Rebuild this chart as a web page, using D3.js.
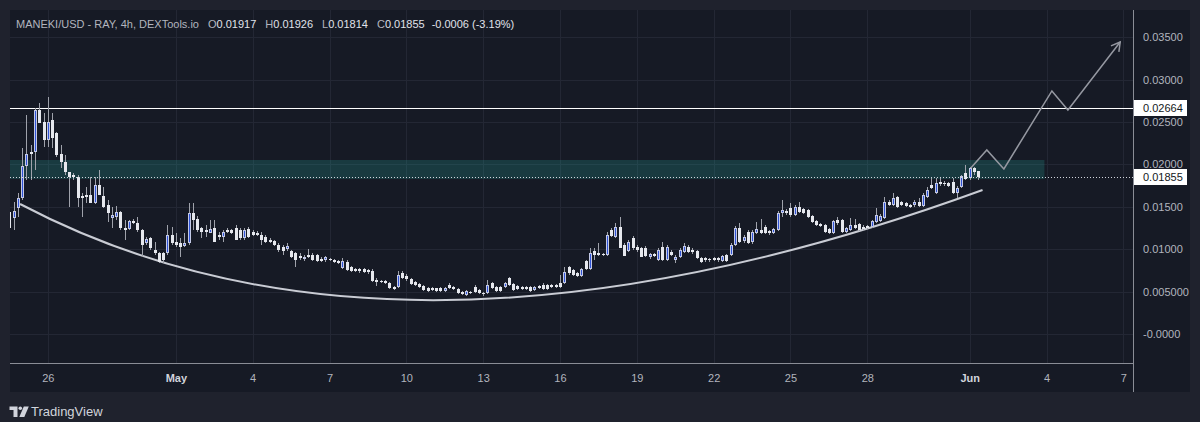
<!DOCTYPE html>
<html>
<head>
<meta charset="utf-8">
<script src="https://cdn.jsdelivr.net/npm/d3@7"></script>
<style>
    html, body { margin: 0; padding: 0; background: #1f222d; }
    svg { display: block; }
    text { font-family: "Liberation Sans", Arial, sans-serif; }
</style>
</head>
<body>
<div id="chart"></div>
<script>

// 4h bars, the first one opens on 24 Apr 12:00 (UTC)
var firstBar = Date.UTC(2024, 3, 24, 12);
var barHours = 4;

// open, high, low, close
var ohlc = [
    [.01443,.01501,.01226,.01250],[.01368,.01557,.01226,.01451],[.01486,.01663,.01380,.01604],[.01604,.02193,.01580,.01981],
    [.01981,.02583,.01816,.02123],[.02146,.02229,.01816,.02123],[.02146,.02665,.01934,.02642],[.02642,.02724,.02488,.02488],
    [.02500,.02606,.02205,.02288],[.02288,.02795,.02205,.02500],[.02524,.02606,.02193,.02311],[.02370,.02382,.02087,.02111],
    [.02123,.02229,.01958,.02028],[.02028,.02111,.01875,.01910],[.01910,.01910,.01498,.01851],[.01875,.01899,.01816,.01851],
    [.01851,.01875,.01498,.01604],[.01627,.01663,.01380,.01604],[.01639,.01733,.01545,.01616],[.01639,.01851,.01545,.01545],
    [.01545,.01851,.01533,.01757],[.01757,.01934,.01639,.01639],[.01627,.01733,.01486,.01498],[.01521,.01580,.01321,.01427],
    [.01368,.01498,.01250,.01403],[.01380,.01509,.01344,.01439],[.01439,.01451,.01226,.01250],[.01250,.01344,.01108,.01226],
    [.01238,.01344,.01226,.01333],[.01333,.01356,.01297,.01309],[.01309,.01380,.01203,.01226],[.01226,.01238,.00908,.01050],
    [.01073,.01144,.01050,.01120],[.01132,.01144,.00991,.01014],[.00991,.01085,.00932,.00955],[.00955,.00967,.00837,.00849],
    [.00955,.00967,.00837,.00873],[.00955,.01285,.00932,.01167],[.01167,.01262,.01050,.01073],[.01085,.01191,.01026,.01050],
    [.01073,.01132,.00908,.01026],[.01038,.01191,.01026,.01073],[.01073,.01545,.01050,.01427],[.01427,.01545,.01226,.01344],
    [.01356,.01391,.01203,.01226],[.01250,.01262,.01132,.01203],[.01226,.01285,.01144,.01203],[.01191,.01344,.01191,.01238],
    [.01250,.01344,.01085,.01085],[.01167,.01203,.01108,.01144],[.01144,.01226,.01085,.01203],[.01226,.01250,.01191,.01203],
    [.01226,.01238,.01179,.01191],[.01250,.01285,.01108,.01108],[.01226,.01250,.01108,.01132],[.01132,.01250,.01108,.01226],
    [.01238,.01262,.01132,.01144],[.01203,.01226,.01155,.01167],[.01191,.01215,.01155,.01167],[.01167,.01203,.01050,.01108],
    [.01144,.01167,.01073,.01085],[.01108,.01132,.01073,.01085],[.01097,.01108,.01038,.01050],[.01050,.01073,.00967,.00991],
    [.01026,.01050,.00932,.00979],[.01002,.01073,.00979,.01038],[.00979,.00991,.00896,.00908],[.00955,.00967,.00790,.00873],
    [.00920,.00955,.00873,.00896],[.00884,.00932,.00861,.00908],[.00932,.01002,.00896,.00908],[.00932,.00955,.00861,.00873],
    [.00932,.00944,.00849,.00861],[.00884,.00908,.00849,.00861],[.00873,.00920,.00849,.00908],[.00884,.00896,.00861,.00873],
    [.00873,.00884,.00837,.00849],[.00861,.00873,.00826,.00837],[.00778,.00896,.00767,.00861],[.00849,.00873,.00743,.00755],
    [.00790,.00802,.00731,.00743],[.00767,.00778,.00731,.00743],[.00767,.00778,.00719,.00743],[.00767,.00778,.00719,.00731],
    [.00755,.00767,.00708,.00731],[.00743,.00767,.00613,.00625],[.00637,.00660,.00566,.00613],[.00625,.00637,.00601,.00613],
    [.00625,.00637,.00590,.00601],[.00601,.00613,.00531,.00542],[.00554,.00566,.00519,.00531],[.00554,.00743,.00542,.00696],
    [.00719,.00743,.00649,.00660],[.00684,.00708,.00625,.00649],[.00649,.00660,.00578,.00590],[.00613,.00625,.00566,.00578],
    [.00590,.00601,.00542,.00554],[.00566,.00578,.00507,.00519],[.00542,.00554,.00495,.00507],[.00542,.00554,.00507,.00519],
    [.00542,.00542,.00495,.00507],[.00542,.00554,.00495,.00507],[.00507,.00554,.00495,.00542],[.00578,.00601,.00531,.00542],
    [.00554,.00566,.00519,.00531],[.00531,.00542,.00472,.00483],[.00495,.00507,.00460,.00472],[.00460,.00519,.00448,.00507],
    [.00495,.00507,.00472,.00483],[.00554,.00578,.00483,.00495],[.00519,.00531,.00472,.00483],[.00483,.00495,.00448,.00472],
    [.00483,.00637,.00472,.00578],[.00601,.00613,.00531,.00542],[.00554,.00566,.00495,.00507],[.00554,.00566,.00495,.00507],
    [.00554,.00613,.00542,.00601],[.00660,.00672,.00566,.00578],[.00590,.00601,.00507,.00519],[.00566,.00578,.00519,.00531],
    [.00554,.00566,.00519,.00531],[.00554,.00566,.00519,.00531],[.00554,.00566,.00495,.00507],[.00519,.00566,.00507,.00554],
    [.00566,.00578,.00531,.00542],[.00578,.00601,.00519,.00531],[.00578,.00590,.00519,.00531],[.00578,.00590,.00542,.00554],
    [.00578,.00590,.00542,.00554],[.00601,.00696,.00542,.00554],[.00601,.00790,.00590,.00731],[.00790,.00802,.00696,.00719],
    [.00755,.00767,.00684,.00696],[.00719,.00731,.00672,.00684],[.00684,.00778,.00672,.00767],[.00861,.00873,.00755,.00767],
    [.00767,.01014,.00755,.00955],[.00979,.01014,.00873,.00932],[.00955,.01073,.00920,.00932],[.00944,.00955,.00920,.00932],
    [.00932,.01203,.00920,.01167],[.01226,.01250,.01144,.01155],[.01144,.01309,.01132,.01262],[.01262,.01380,.01014,.01014],
    [.01050,.01073,.00920,.00920],[.00979,.01108,.00967,.01085],[.01132,.01155,.00991,.01014],[.01026,.01050,.00967,.00991],
    [.01014,.01026,.00908,.00908],[.01014,.01038,.00908,.00920],[.00908,.00955,.00884,.00944],[.00944,.00955,.00908,.00920],
    [.00873,.01014,.00861,.00991],[.01026,.01085,.00861,.00873],[.00873,.01050,.00861,.01026],[.00967,.00991,.00920,.00932],
    [.00873,.00932,.00837,.00908],[.00908,.01014,.00896,.00991],[.00967,.01073,.00955,.01038],[.01026,.01050,.00955,.00967],
    [.00991,.01014,.00944,.00967],[.00979,.00991,.00884,.00896],[.00896,.00908,.00837,.00849],[.00896,.00908,.00849,.00873],
    [.00884,.00896,.00849,.00873],[.00896,.00908,.00861,.00873],[.00896,.00908,.00849,.00873],[.00861,.00932,.00849,.00920],
    [.00932,.00944,.00849,.00861],[.00932,.01073,.00920,.01050],[.01050,.01274,.01038,.01250],[.01250,.01309,.01073,.01085],
    [.01097,.01167,.01073,.01144],[.01203,.01226,.01062,.01073],[.01085,.01226,.01062,.01203],[.01191,.01321,.01179,.01238],
    [.01226,.01356,.01179,.01191],[.01262,.01285,.01179,.01191],[.01215,.01226,.01167,.01191],[.01191,.01250,.01179,.01238],
    [.01226,.01451,.01215,.01427],[.01427,.01580,.01380,.01462],[.01451,.01474,.01403,.01427],[.01486,.01545,.01380,.01403],
    [.01403,.01521,.01391,.01498],[.01498,.01557,.01427,.01439],[.01474,.01486,.01415,.01427],[.01462,.01474,.01368,.01380],
    [.01391,.01403,.01309,.01321],[.01333,.01344,.01274,.01285],[.01297,.01309,.01262,.01274],[.01285,.01297,.01191,.01203],
    [.01238,.01250,.01179,.01191],[.01191,.01344,.01179,.01333],[.01344,.01380,.01285,.01309],[.01344,.01356,.01191,.01203],
    [.01203,.01262,.01191,.01250],[.01226,.01368,.01215,.01285],[.01285,.01356,.01238,.01250],[.01297,.01309,.01215,.01226],
    [.01262,.01285,.01215,.01238],[.01274,.01285,.01238,.01250],[.01262,.01344,.01250,.01333],[.01321,.01486,.01309,.01403],
    [.01333,.01415,.01321,.01391],[.01368,.01616,.01356,.01557],[.01557,.01580,.01509,.01521],[.01521,.01663,.01509,.01604],
    [.01616,.01627,.01486,.01498],[.01557,.01568,.01509,.01521],[.01545,.01557,.01498,.01509],[.01521,.01533,.01486,.01498],
    [.01521,.01580,.01498,.01557],[.01557,.01604,.01498,.01509],[.01509,.01663,.01498,.01639],[.01616,.01733,.01604,.01698],
    [.01757,.01840,.01710,.01722],[.01663,.01840,.01651,.01781],[.01792,.01840,.01745,.01769],[.01781,.01804,.01745,.01769],
    [.01781,.01792,.01733,.01745],[.01792,.01840,.01651,.01663],[.01663,.01745,.01604,.01722],[.01733,.01875,.01722,.01863],
    [.01899,.01993,.01816,.01828],[.01840,.01969,.01816,.01958],[.01958,.01969,.01875,.01910],[.01917,.01926,.01814,.01855]
];

var dateTicks = [Date.UTC(2024,3,26), Date.UTC(2024,4,1), Date.UTC(2024,4,4), Date.UTC(2024,4,7), Date.UTC(2024,4,10),
    Date.UTC(2024,4,13), Date.UTC(2024,4,16), Date.UTC(2024,4,19), Date.UTC(2024,4,22), Date.UTC(2024,4,25),
    Date.UTC(2024,4,28), Date.UTC(2024,5,1), Date.UTC(2024,5,4), Date.UTC(2024,5,7)];
var dateLabels = ["26", "May", "4", "7", "10", "13", "16", "19", "22", "25", "28", "Jun", "4", "7"];

var priceTicks = [0.035, 0.03, 0.025, 0.02, 0.015, 0.01, 0.005, 0];
var priceLabels = ["0.03500", "0.03000", "0.02500", "0.02000", "0.01500", "0.01000", "0.005000", "-0.0000"];

// drawings on the chart
var resistancePrice = 0.02664;
var lastPrice = 0.01855;
var zonePrices = [0.01828, 0.02052];
var zoneDates = [Date.UTC(2024,3,24), Date.UTC(2024,5,3,22)];
var bowlDates = [Date.UTC(2024,3,24,22), Date.UTC(2024,4,9,16), Date.UTC(2024,5,1,12)];
var bowlPrices = [0.01533, -0.00814, 0.01698];
var pathDates = [Date.UTC(2024,5,1,1), Date.UTC(2024,5,1,16), Date.UTC(2024,5,2,8),
    Date.UTC(2024,5,4,5), Date.UTC(2024,5,4,20), Date.UTC(2024,5,6,21)];
var pathPrices = [0.01958, 0.02170, 0.01946, 0.02866, 0.02642, 0.03443];

var legendName = "MANEKI/USD - RAY, 4h, DEXTools.io";
var legendKeys = ["O", "H", "L", "C", ""];
var legendValues = ["0.01917", "0.01926", "0.01814", "0.01855", "-0.0006 (-3.19%)"];


CandleChart = function(_parentElement) {
    this.parentElement = _parentElement;
    this.initVis();
};

CandleChart.prototype.initVis = function() {
    var vis = this;

    vis.width = 1200;
    vis.height = 422;
    vis.plot = {left: 10, right: 1134, top: 10, bottom: 363};

    vis.x = d3.scaleUtc()
        .domain([Date.UTC(2024,3,26), Date.UTC(2024,5,7)])
        .range([47.8, 1123.4]);

    vis.y = d3.scaleLinear()
        .domain([0, 0.035])
        .range([334, 37.2]);

    vis.svg = d3.select(vis.parentElement)
        .append("svg")
        .attr("width", vis.width)
        .attr("height", vis.height);

    vis.svg.append("rect")
        .attr("width", vis.width)
        .attr("height", vis.height)
        .attr("fill", "#1f222d");

    vis.svg.append("rect")
        .attr("x", 10)
        .attr("y", 10)
        .attr("width", 1180)
        .attr("height", 382)
        .attr("fill", "#161a25");

    vis.svg.append("clipPath")
        .attr("id", "plotClip")
        .append("rect")
        .attr("x", vis.plot.left)
        .attr("y", vis.plot.top)
        .attr("width", vis.plot.right - vis.plot.left)
        .attr("height", vis.plot.bottom - vis.plot.top);

    vis.wrangleData();
};

CandleChart.prototype.wrangleData = function() {
    var vis = this;

    vis.bars = ohlc.map(function(d, i) {
        return {
            time: new Date(firstBar + i * barHours * 3600000),
            open: d[0], high: d[1], low: d[2], close: d[3]
        };
    });

    vis.updateVis();
};

CandleChart.prototype.updateVis = function() {
    var vis = this;
    var gridColor = "#232734";

    // Grid
    var grid = vis.svg.append("g").attr("clip-path", "url(#plotClip)");

    grid.selectAll(".hgrid")
        .data(priceTicks)
        .enter().append("line")
        .attr("class", "hgrid")
        .attr("x1", vis.plot.left)
        .attr("x2", vis.plot.right)
        .attr("y1", function(d) { return Math.round(vis.y(d)) + 0.5; })
        .attr("y2", function(d) { return Math.round(vis.y(d)) + 0.5; })
        .attr("stroke", gridColor);

    grid.selectAll(".vgrid")
        .data(dateTicks)
        .enter().append("line")
        .attr("class", "vgrid")
        .attr("x1", function(d) { return Math.round(vis.x(d)) + 0.5; })
        .attr("x2", function(d) { return Math.round(vis.x(d)) + 0.5; })
        .attr("y1", vis.plot.top)
        .attr("y2", vis.plot.bottom)
        .attr("stroke", gridColor);

    var chart = vis.svg.append("g").attr("clip-path", "url(#plotClip)");

    // Supply zone
    chart.append("rect")
        .attr("x", vis.x(zoneDates[0]))
        .attr("width", vis.x(zoneDates[1]) - vis.x(zoneDates[0]))
        .attr("y", vis.y(zonePrices[1]))
        .attr("height", vis.y(zonePrices[0]) - vis.y(zonePrices[1]))
        .attr("fill", "rgba(38,166,154,0.23)");

    // Resistance line
    var ry = Math.round(vis.y(resistancePrice)) + 0.5;
    chart.append("line")
        .attr("x1", vis.plot.left).attr("x2", vis.plot.right)
        .attr("y1", ry).attr("y2", ry)
        .attr("stroke", "#ffffff")
        .attr("stroke-width", 1);

    // Rounded bottom
    var bowl = d3.path();
    bowl.moveTo(vis.x(bowlDates[0]), vis.y(bowlPrices[0]));
    bowl.quadraticCurveTo(vis.x(bowlDates[1]), vis.y(bowlPrices[1]), vis.x(bowlDates[2]), vis.y(bowlPrices[2]));
    chart.append("path")
        .attr("d", bowl.toString())
        .attr("fill", "none")
        .attr("stroke", "#c9ccd4")
        .attr("stroke-width", 2);

    // Candles
    var candles = chart.selectAll(".candle")
        .data(vis.bars)
        .enter().append("g")
        .attr("class", "candle")
        .attr("shape-rendering", "crispEdges");

    candles.append("rect")
        .attr("x", function(d) { return Math.round(vis.x(d.time)); })
        .attr("width", 1)
        .attr("y", function(d) { return Math.round(vis.y(d.high)); })
        .attr("height", function(d) { return Math.max(1, Math.round(vis.y(d.low)) - Math.round(vis.y(d.high))); })
        .attr("fill", "#9fa2ab");

    candles.append("rect")
        .attr("x", function(d) { return Math.round(vis.x(d.time)) - 1; })
        .attr("width", 3)
        .attr("y", function(d) { return Math.round(vis.y(Math.max(d.open, d.close))); })
        .attr("height", function(d) {
            return Math.max(1, Math.round(vis.y(Math.min(d.open, d.close))) - Math.round(vis.y(Math.max(d.open, d.close))));
        })
        .attr("fill", function(d) { return d.close >= d.open ? "#c3c9e6" : "#e6e8ee"; });

    candles.filter(function(d) { return d.close >= d.open; })
        .append("rect")
        .attr("x", function(d) { return Math.round(vis.x(d.time)); })
        .attr("width", 1)
        .attr("y", function(d) { return Math.round(vis.y(d.close)) + 1; })
        .attr("height", function(d) {
            return Math.max(0, Math.round(vis.y(d.open)) - Math.round(vis.y(d.close)) - 2);
        })
        .attr("fill", "#2f53d6");

    // Projected path
    var pts = pathDates.map(function(d, i) { return [vis.x(d), vis.y(pathPrices[i])]; });
    chart.append("path")
        .attr("d", d3.line()(pts))
        .attr("fill", "none")
        .attr("stroke", "#9598a1")
        .attr("stroke-width", 1.5);

    var p1 = pts[pts.length - 2], p2 = pts[pts.length - 1];
    var ang = Math.atan2(p2[1] - p1[1], p2[0] - p1[0]);
    var head = 10, spread = Math.PI / 6;
    chart.append("path")
        .attr("d", "M" + (p2[0] - head * Math.cos(ang - spread)) + "," + (p2[1] - head * Math.sin(ang - spread)) +
            "L" + p2[0] + "," + p2[1] +
            "L" + (p2[0] - head * Math.cos(ang + spread)) + "," + (p2[1] - head * Math.sin(ang + spread)))
        .attr("fill", "none")
        .attr("stroke", "#9598a1")
        .attr("stroke-width", 1.5);

    // Last price line
    var ly = Math.round(vis.y(lastPrice)) + 0.5;
    chart.append("line")
        .attr("x1", vis.plot.left).attr("x2", vis.plot.right)
        .attr("y1", ly).attr("y2", ly)
        .attr("stroke", "#d1d4dc")
        .attr("stroke-dasharray", "1,2");

    // Axis borders
    vis.svg.append("line")
        .attr("x1", vis.plot.left).attr("x2", vis.plot.right)
        .attr("y1", vis.plot.bottom + 0.5).attr("y2", vis.plot.bottom + 0.5)
        .attr("stroke", "#8a8d96");
    vis.svg.append("line")
        .attr("x1", vis.plot.right - 0.5).attr("x2", vis.plot.right - 0.5)
        .attr("y1", 10).attr("y2", 392)
        .attr("stroke", "#8a8d96");

    // Time axis
    var xAxis = vis.svg.append("g")
        .attr("class", "axis")
        .attr("transform", "translate(0," + vis.plot.bottom + ")")
        .call(d3.axisBottom(vis.x)
            .tickValues(dateTicks)
            .tickSize(0)
            .tickPadding(11)
            .tickFormat(function(d, i) { return dateLabels[i]; }));
    xAxis.select(".domain").remove();
    xAxis.selectAll("text")
        .attr("fill", function(d, i) { return isNaN(+dateLabels[i]) ? "#d1d4dc" : "#b2b5be"; })
        .style("font-weight", function(d, i) { return isNaN(+dateLabels[i]) ? "bold" : "normal"; })
        .style("font-size", "11px")
        .style("font-family", "'Liberation Sans', Arial, sans-serif");

    // Price axis
    var yAxis = vis.svg.append("g")
        .attr("class", "axis")
        .attr("transform", "translate(" + vis.plot.right + ",0)")
        .call(d3.axisRight(vis.y)
            .tickValues(priceTicks)
            .tickSize(0)
            .tickPadding(9)
            .tickFormat(function(d, i) { return priceLabels[i]; }));
    yAxis.select(".domain").remove();
    yAxis.selectAll("text")
        .attr("fill", "#b2b5be")
        .style("font-size", "11px")
        .style("font-family", "'Liberation Sans', Arial, sans-serif");

    // Price labels
    [resistancePrice, lastPrice].forEach(function(p) {
        var cy = vis.y(p);
        vis.svg.append("rect")
            .attr("x", vis.plot.right)
            .attr("y", Math.round(cy) - 8)
            .attr("width", 53)
            .attr("height", 16)
            .attr("fill", "#ffffff");
        vis.svg.append("text")
            .attr("x", vis.plot.right + 9)
            .attr("y", cy + 4)
            .attr("fill", "#131722")
            .style("font-size", "11px")
            .text(p.toFixed(5));
    });

    // Legend
    var legend = vis.svg.append("text")
        .attr("x", 16)
        .attr("y", 28)
        .style("font-size", "11px");
    legend.append("tspan")
        .attr("fill", "#b2b5be")
        .text(legendName);
    legendKeys.forEach(function(k, i) {
        if (k !== "") {
            legend.append("tspan")
                .attr("dx", 9)
                .attr("fill", "#b2b5be")
                .text(k);
        }
        legend.append("tspan")
            .attr("dx", k === "" ? 7 : 0)
            .attr("fill", "#e0e3eb")
            .text(legendValues[i]);
    });

    // TradingView mark
    var logo = vis.svg.append("g").attr("fill", "#d1d4dc");
    logo.append("path").attr("d", "M9.5,406.5H17.5V417H13.5V410H9.5Z");
    logo.append("circle").attr("cx", 20.3).attr("cy", 408.3).attr("r", 1.8);
    logo.append("path").attr("d", "M23.8,406.5H28.8L24.3,417H19.3Z");
    vis.svg.append("text")
        .attr("x", 31)
        .attr("y", 416)
        .attr("fill", "#d1d4dc")
        .style("font-size", "13px")
        .text("TradingView");
};

var candleChart = new CandleChart("#chart");

</script>
</body>
</html>
